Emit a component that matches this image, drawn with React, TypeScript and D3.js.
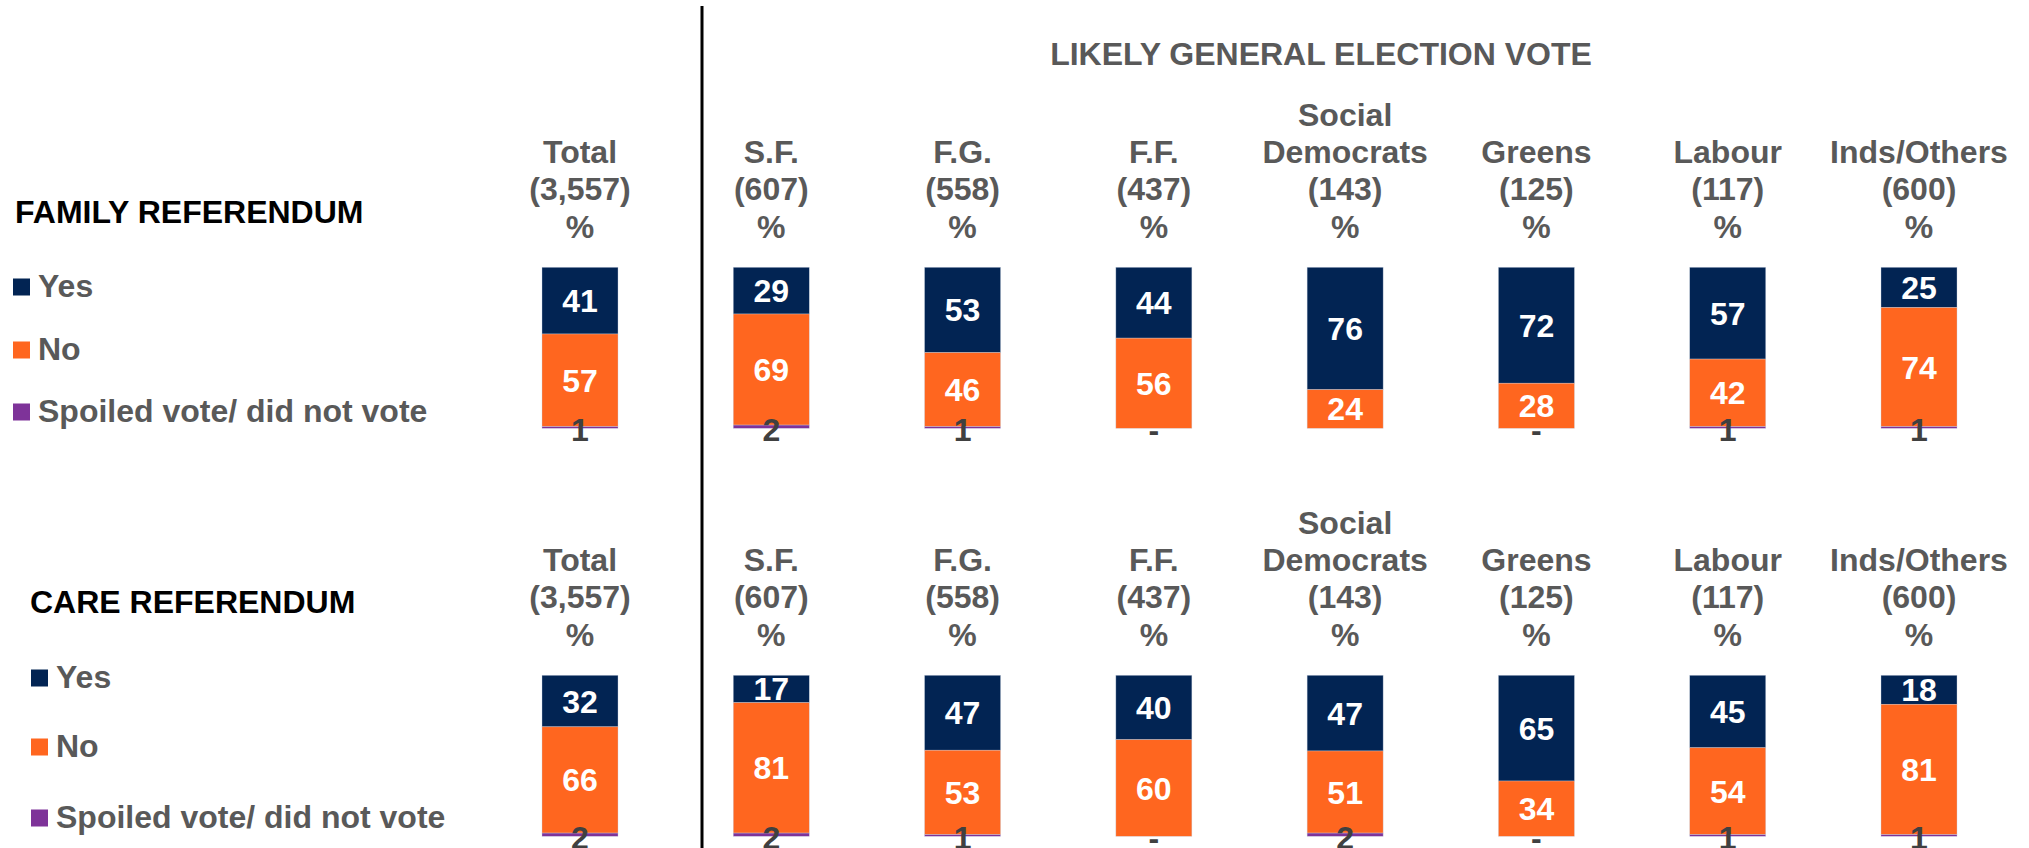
import React from "react";
import * as d3 from "d3";

const columns = ["Total", "S.F.", "F.G.", "F.F.", "Social Democrats", "Greens", "Labour", "Inds/Others"];
const columnLines = [["Total"], ["S.F."], ["F.G."], ["F.F."], ["Social", "Democrats"], ["Greens"], ["Labour"], ["Inds/Others"]];
const bases = ["3,557", "607", "558", "437", "143", "125", "117", "600"];

const seriesNames = ["Yes", "No", "Spoiled vote/ did not vote"];

const familyYes = [41, 29, 53, 44, 76, 72, 57, 25];
const familyNo = [57, 69, 46, 56, 24, 28, 42, 74];
const familySpoiled: (number | null)[] = [1, 2, 1, 0, null, 0, 1, 1];

const careYes = [32, 17, 47, 40, 47, 65, 45, 18];
const careNo = [66, 81, 53, 60, 51, 34, 54, 81];
const careSpoiled: (number | null)[] = [2, 2, 1, 0, 2, 0, 1, 1];

const COLORS = ["#022453", "#FF661F", "#7E3399"];
const FONT = "'Liberation Sans', Arial, Helvetica, sans-serif";
const GRAY = "#595959";

type Panel = {
  title: string;
  yes: number[];
  no: number[];
  spoiled: (number | null)[];
  offset: number;
  titleX: number;
  titleY: number;
  legendX: number;
  legendY: number[];
};

const panels: Panel[] = [
  { title: "FAMILY REFERENDUM", yes: familyYes, no: familyNo, spoiled: familySpoiled, offset: 0, titleX: 15, titleY: 223, legendX: 13, legendY: [297, 360, 422] },
  { title: "CARE REFERENDUM", yes: careYes, no: careNo, spoiled: careSpoiled, offset: 408, titleX: 30, titleY: 613, legendX: 31, legendY: [688, 757, 828] },
];

const W = 2029;
const H = 848;
const BAR_W = 76;

const x = d3.scalePoint<string>().domain(columns).range([580, 1919]);

function PanelView({ p }: { p: Panel }) {
  const y = d3.scaleLinear().domain([0, 1]).range([428.3 + p.offset, 267.3 + p.offset]);
  const rows = columns.map((c, i) => ({ col: c, yes: p.yes[i], no: p.no[i], sp: p.spoiled[i] ?? 0 }));
  const stack = d3.stack<any>().keys(["yes", "no", "sp"]).order(d3.stackOrderReverse).offset(d3.stackOffsetExpand);
  // order: bottom spoiled, then no, then yes on top
  const layers = stack(rows);
  const bottom = y(0);
  const headBase = [126, 163.3, 200, 238].map((v) => v + p.offset);

  return (
    <g>
      <text x={p.titleX} y={p.titleY} fontFamily={FONT} fontWeight="bold" fontSize={32} fill="#000">
        {p.title}
      </text>
      {seriesNames.map((s, i) => (
        <g key={s}>
          <rect x={p.legendX} y={p.legendY[i] - 18.5} width={17} height={17} fill={COLORS[i]} />
          <text x={p.legendX + 25} y={p.legendY[i]} fontFamily={FONT} fontWeight="bold" fontSize={32} fill={GRAY}>
            {s}
          </text>
        </g>
      ))}
      {columns.map((c, i) => {
        const lines = [...columnLines[i], `(${bases[i]})`, "%"];
        const start = headBase.length - lines.length;
        return (
          <g key={c}>
            {lines.map((l, j) => (
              <text key={j} x={x(c)} y={headBase[start + j]} textAnchor="middle" fontFamily={FONT} fontWeight="bold" fontSize={32} fill={GRAY}>
                {l}
              </text>
            ))}
          </g>
        );
      })}
      {layers.map((layer) => {
        const key = layer.key as string;
        const ci = key === "yes" ? 0 : key === "no" ? 1 : 2;
        return (
          <g key={key}>
            {layer.map((d, i) => {
              const y0 = y(d[0]);
              const y1 = y(d[1]);
              const h = Math.max(0, y0 - y1);
              return (
                <rect key={i} x={(x(columns[i]) as number) - BAR_W / 2} y={y1} width={BAR_W} height={h} fill={COLORS[ci]} stroke="rgba(200,210,225,0.6)" strokeWidth={0.6} />
              );
            })}
          </g>
        );
      })}
      {layers.map((layer) => {
        const key = layer.key as string;
        if (key === "sp") return null;
        const vals = key === "yes" ? p.yes : p.no;
        return (
          <g key={"l" + key}>
            {layer.map((d, i) => {
              const cy = (y(d[0]) + y(d[1])) / 2;
              return (
                <text key={i} x={x(columns[i])} y={cy + 11.5} textAnchor="middle" fontFamily={FONT} fontWeight="bold" fontSize={32} fill="#fff">
                  {vals[i]}
                </text>
              );
            })}
          </g>
        );
      })}
      {columns.map((c, i) => {
        const v = p.spoiled[i];
        if (v === null) return null;
        return (
          <text key={"s" + c} x={x(c)} y={bottom + 13} textAnchor="middle" fontFamily={FONT} fontWeight="bold" fontSize={32} fill="#404040">
            {v === 0 ? "-" : v}
          </text>
        );
      })}
    </g>
  );
}

export default function App() {
  return (
    <svg width={W} height={H} style={{ position: "absolute", left: 0, top: 0, background: "#fff" }}>
      <rect x={0} y={0} width={W} height={H} fill="#fff" />
      <line x1={702} x2={702} y1={6} y2={H} stroke="#000" strokeWidth={3} />
      <text x={1321} y={65} textAnchor="middle" fontFamily={FONT} fontWeight="bold" fontSize={32} fill={GRAY}>
        LIKELY GENERAL ELECTION VOTE
      </text>
      {panels.map((p) => (
        <PanelView key={p.title} p={p} />
      ))}
    </svg>
  );
}
